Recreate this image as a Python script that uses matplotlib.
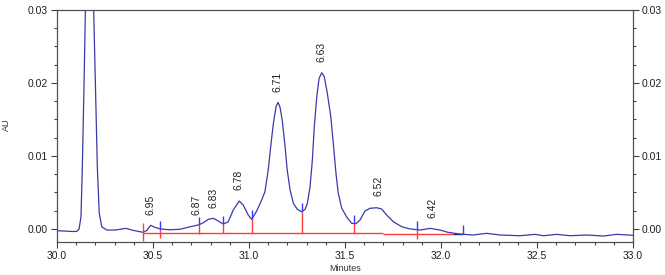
import numpy as np
import matplotlib
matplotlib.use("Agg")
import matplotlib.pyplot as plt
from matplotlib.ticker import MultipleLocator, FormatStrFormatter

plt.rcParams['font.family'] = ['Liberation Sans', 'DejaVu Sans']

# chromatogram trace (minutes, AU)
time = [30.000, 30.042, 30.078, 30.104, 30.115, 30.125, 30.132, 30.141, 30.148, 30.170,
        30.191, 30.202, 30.210, 30.220, 30.233, 30.259, 30.302, 30.359, 30.396, 30.448,
        30.467, 30.488, 30.510, 30.540, 30.589, 30.641, 30.693, 30.736, 30.762, 30.788,
        30.814, 30.840, 30.866, 30.892, 30.918, 30.949, 30.970, 30.996, 31.014, 31.040,
        31.066, 31.083, 31.100, 31.113, 31.127, 31.141, 31.151, 31.161, 31.173, 31.188,
        31.199, 31.214, 31.231, 31.252, 31.274, 31.292, 31.304, 31.318, 31.330, 31.340,
        31.353, 31.365, 31.379, 31.392, 31.408, 31.426, 31.439, 31.453, 31.465, 31.483,
        31.509, 31.535, 31.557, 31.578, 31.604, 31.630, 31.665, 31.691, 31.717, 31.752,
        31.796, 31.839, 31.891, 31.943, 31.995, 32.036, 32.099, 32.167, 32.238, 32.307,
        32.411, 32.490, 32.533, 32.603, 32.672, 32.759, 32.845, 32.915, 33.000]
au = [-0.00027, -0.00032, -0.00038, -0.00036, -0.00004, 0.00165, 0.0085, 0.0200, 0.0300, 0.0600,
      0.0300, 0.01765, 0.0085, 0.00215, 0.00027, -0.00018, -0.00018, 0.00005, -0.00022, -0.00049,
      -0.00025, 0.00047, 0.00019, -0.00004, -0.00014, -0.00008, 0.00027, 0.00051, 0.00082, 0.00129,
      0.00143, 0.00106, 0.00064, 0.00096, 0.00257, 0.0038, 0.00325, 0.00188, 0.00129, 0.00243,
      0.00394, 0.00508, 0.00805, 0.01125, 0.01446, 0.01674, 0.01734, 0.01674, 0.01491, 0.01125,
      0.00805, 0.00531, 0.00348, 0.00266, 0.00233, 0.00266, 0.00348, 0.00576, 0.00942, 0.01399,
      0.01811, 0.02063, 0.0214, 0.02085, 0.01857, 0.01536, 0.01171, 0.0076, 0.00486, 0.0028,
      0.00160, 0.00074, 0.00069, 0.00119, 0.00243, 0.0028, 0.00288, 0.0027, 0.00188, 0.00096,
      0.00027, -0.00003, -0.00018, 0.00005, -0.00018, -0.00049, -0.00073, -0.00086, -0.00063, -0.00086,
      -0.00096, -0.00077, -0.00096, -0.00077, -0.00096, -0.00086, -0.001, -0.00077, -0.0009]

# peak labels
peak_names = ["6.95", "6.87", "6.83", "6.78", "6.71", "6.63", "6.52", "6.42"]
peak_t = [30.488, 30.728, 30.814, 30.944, 31.147, 31.380, 31.673, 31.955]
peak_h = [0.0005, 0.0004, 0.0014, 0.0039, 0.0173, 0.0214, 0.0030, 0.0001]

# integration marks
red_t = [30.448, 30.536, 30.740, 30.866, 31.014, 31.274, 31.545, 31.873]
red_hi = [0.00074, -0.00018, 0.00051, 0.00064, 0.00129, 0.00233, 0.00072, -0.00015]
red_lo = [-0.00169, -0.00132, -0.00077, -0.00063, -0.00055, -0.00055, -0.00063, -0.00141]
blue_t = [30.536, 30.740, 30.866, 31.014, 31.274, 31.545, 31.873, 32.113]
blue_lo = [-0.00018, 0.00051, 0.00064, 0.00129, 0.00233, 0.00072, -0.00015, -0.00077]
blue_hi = [0.0011, 0.0016, 0.00178, 0.00253, 0.00353, 0.00182, 0.00106, 0.00051]

# drawn baselines
base_t0 = [30.448, 31.696]
base_t1 = [31.696, 32.060]
base_y = [-0.00055, -0.00075]

fig = plt.figure(figsize=(6.65, 2.75), dpi=100)
ax = fig.add_axes([0.0857, 0.12, 0.8662, 0.8436])

ax.hlines(base_y, base_t0, base_t1, color="#ff3b3b", lw=1.0, zorder=2)
ax.hlines(base_y[-1], base_t1[-1], 32.113, color="#202060", lw=1.0, zorder=2)
ax.plot(time, au, color="#3a3aa8", lw=0.9, zorder=3)
ax.vlines(red_t, red_lo, red_hi, color="#ff3b3b", lw=1.0, zorder=4)
ax.vlines(blue_t, blue_lo, blue_hi, color="#3b3bff", lw=1.0, zorder=4)

for name, t, h in zip(peak_names, peak_t, peak_h):
    ax.annotate(name, (t, h), xytext=(0, 7.5), textcoords="offset points",
                rotation=90, ha="center", va="bottom", fontsize=7.5, color="#202020")

ax.set_xlim(30.0, 33.0)
ax.set_ylim(-0.00182, 0.03)
ax.xaxis.set_major_locator(MultipleLocator(0.5))
ax.xaxis.set_minor_locator(MultipleLocator(0.1))
ax.yaxis.set_major_locator(MultipleLocator(0.01))
ax.yaxis.set_minor_locator(MultipleLocator(0.0025))
ax.xaxis.set_major_formatter(FormatStrFormatter("%.1f"))
ax.yaxis.set_major_formatter(FormatStrFormatter("%.2f"))
ax.tick_params(which="both", direction="out", right=True, labelright=True,
               labelsize=7.5, colors="#404040", labelcolor="#202020", width=0.8, pad=2.5)
ax.tick_params(which="major", length=4)
ax.tick_params(which="minor", length=2.5)
for s in ax.spines.values():
    s.set_color("#505050")
    s.set_linewidth(0.9)

ax.set_xlabel("Minutes", fontsize=6.5, color="#303030", labelpad=2)
fig.text(0.009, 0.545, "AU", rotation=90, fontsize=6.5, color="#303030", ha="center", va="center")

fig.savefig("out.png", dpi=100)
